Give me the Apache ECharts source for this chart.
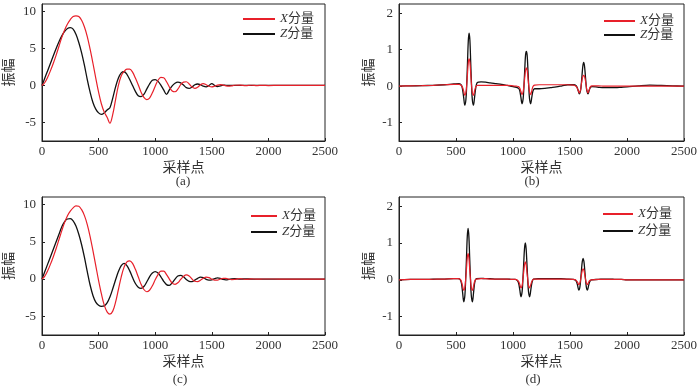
<!DOCTYPE html>
<html>
<head>
<meta charset="utf-8">
<script src="https://cdn.jsdelivr.net/npm/echarts@6/dist/echarts.min.js"></script>
<style>
  html, body { margin: 0; padding: 0; background: #fff; }
  #chart { width: 700px; height: 386px; }
</style>
</head>
<body>
<div id="chart"></div>
<script>
// sample positions for panels (a) and (c)
const xsAC = [0,25,50,75,100,125,150,175,200,225,250,275,300,325,350,375,400,425,450,475,
  500,525,550,575,600,625,650,675,700,725,750,775,800,825,850,875,900,925,950,975,
  1000,1025,1050,1075,1100,1125,1150,1175,1200,1225,1250,1275,1300,1325,1350,1375,1400,1425,1450,1475,
  1500,1525,1550,1575,1600,1625,1650,1675,1700,
  1750,1800,1850,1900,1950,2000,2100,2200,2300,2400,2500];

const redA = [0,0.4,1.1,2.0,3.0,4.1,5.3,6.5,7.5,8.3,
  8.9,9.3,9.4,9.3,8.8,7.9,6.6,4.9,3.0,1.0,
  -0.9,-2.5,-3.6,-4.3,-5.1,-3.9,-1.9,0.0,1.3,1.9,
  2.2,2.2,1.8,1.0,0.1,-0.9,-1.6,-1.9,-1.7,-1.0,
  -0.1,0.7,1.1,1.05,0.5,-0.2,-0.75,-0.85,-0.5,0.1,
  0.45,0.5,0.2,-0.2,-0.4,-0.25,0.1,0.25,0.1,-0.1,
  -0.2,-0.1,0.05,0.12,0.05,-0.05,-0.1,-0.05,0.03,
  0.05,-0.03,0.03,-0.02,0.02,-0.01,0.01,0,0,0,0];
const blackA = [0,1.0,2.0,3.0,4.0,5.0,5.9,6.7,7.3,7.7,
  7.8,7.6,6.9,5.8,4.4,2.7,0.8,-0.9,-2.3,-3.2,
  -3.7,-3.9,-3.7,-3.3,-3.0,-1.7,-0.2,1.0,1.7,1.85,
  1.5,0.8,0.0,-0.8,-1.4,-1.5,-1.2,-0.5,0.2,0.7,
  0.8,0.55,0.05,-0.6,-1.2,-0.6,-0.05,0.3,0.45,0.35,
  0.05,-0.3,-0.4,-0.2,0.1,0.2,0.1,-0.1,-0.2,0.0,
  0.25,0.0,-0.15,-0.05,0.05,0.02,0.0,0.0,0.02,
  0,0,0,0,0,0,0,0,0,0,0];

const redC = [0,0.4,1.1,2.0,3.0,4.1,5.3,6.5,7.6,8.5,
  9.1,9.55,9.8,9.75,9.3,8.5,7.3,5.7,3.8,1.8,
  -0.2,-2.0,-3.5,-4.4,-4.7,-4.3,-3.1,-1.4,0.3,1.6,
  2.3,2.45,2.1,1.3,0.3,-0.7,-1.4,-1.7,-1.5,-0.9,
  -0.1,0.6,1.05,1.05,0.6,0.0,-0.55,-0.7,-0.5,-0.05,
  0.35,0.55,0.4,0.0,-0.3,-0.35,-0.15,0.1,0.25,0.2,
  0.0,-0.15,-0.15,0.0,0.1,0.1,0.0,-0.07,-0.05,
  0.05,-0.03,0.03,-0.02,0.01,0.01,0,0,0,0,0];
const blackC = [0,1.0,2.0,3.0,4.0,5.0,6.0,7.0,7.7,8.05,
  8.1,7.8,7.1,6.0,4.6,2.9,1.0,-0.8,-2.2,-3.1,
  -3.5,-3.65,-3.6,-3.2,-2.4,-1.3,-0.1,1.0,1.8,2.1,
  1.8,1.1,0.2,-0.6,-1.1,-1.25,-1.0,-0.4,0.3,0.8,
  1.0,0.8,0.3,-0.3,-0.75,-0.85,-0.5,0.0,0.4,0.5,
  0.3,-0.05,-0.3,-0.35,-0.15,0.1,0.25,0.2,-0.05,-0.15,
  -0.1,0.05,0.15,0.1,-0.05,-0.1,-0.05,0.02,0.05,
  0.0,0.02,0.0,0.0,0.0,0.0,0,0,0,0,0];

// sample positions for panel (b)
const xsB = [0,100,200,300,400,480,
  527,547,557,567,577,587,594,601,608,615,622,629,636,643,653,663,673,687,
  720,760,800,850,900,950,1000,
  1029,1049,1059,1069,1079,1089,1096,1103,1110,1117,1124,1131,1138,1145,1155,1165,1175,1189,
  1230,1280,1330,1380,1430,1480,
  1532,1552,1562,1572,1582,1592,1599,1606,1613,1620,1627,1634,1641,1648,1658,1668,1678,1692,
  1750,1800,1850,1900,1950,2000,2100,2200,2300,2400,2500];
const redB = [0,0.01,0.015,0.025,0.04,0.05,
  0.05,0.02,-0.03,-0.13,-0.25,-0.17,0.04,0.35,0.65,0.75,0.65,0.35,0.04,-0.17,-0.25,-0.13,-0.02,0.02,
  0.02,0.02,0.02,0.02,0.02,0.02,0.01,
  0.0,-0.01,-0.05,-0.14,-0.23,-0.15,0.02,0.24,0.44,0.5,0.44,0.24,0.02,-0.15,-0.23,-0.12,-0.01,0.03,
  0.04,0.04,0.04,0.04,0.04,0.04,
  0.03,0.0,-0.04,-0.12,-0.18,-0.11,0.04,0.18,0.27,0.3,0.27,0.18,0.04,-0.11,-0.18,-0.1,-0.02,0.01,
  0.01,0.0,0.0,0.0,0.0,0.0,0.0,0.0,0.0,0.0,0.0];
const blackB = [0,0.01,0.015,0.025,0.04,0.06,
  0.07,0.03,-0.08,-0.3,-0.52,-0.36,0.05,0.65,1.25,1.45,1.25,0.65,0.05,-0.36,-0.52,-0.3,-0.05,0.1,
  0.12,0.11,0.09,0.07,0.05,0.02,-0.01,
  -0.03,-0.06,-0.12,-0.3,-0.48,-0.34,0.0,0.45,0.85,0.95,0.85,0.45,0.0,-0.34,-0.48,-0.3,-0.13,-0.07,
  -0.07,-0.06,-0.04,-0.02,0.01,0.04,
  0.04,0.02,-0.03,-0.12,-0.21,-0.13,0.05,0.32,0.56,0.65,0.56,0.32,0.05,-0.13,-0.21,-0.12,-0.04,-0.01,
  -0.03,-0.04,-0.04,-0.04,-0.03,-0.02,0.01,0.03,0.02,0.01,0.0];

// sample positions for panel (d)
const xsD = [0,100,200,300,400,480,
  518,538,548,558,568,578,585,592,599,606,613,620,627,634,644,654,664,678,
  720,760,800,850,900,950,990,
  1020,1040,1050,1060,1070,1080,1087,1094,1101,1108,1115,1122,1129,1136,1146,1156,1166,1180,
  1220,1270,1320,1370,1420,1470,
  1527,1547,1557,1567,1577,1587,1594,1601,1608,1615,1622,1629,1636,1643,1653,1663,1673,1687,
  1750,1800,1850,1900,1950,2000,2100,2200,2300,2400,2500];
const redD = [0,0.01,0.01,0.015,0.02,0.03,
  0.03,0.01,-0.05,-0.17,-0.29,-0.2,0.02,0.3,0.6,0.71,0.6,0.3,0.02,-0.2,-0.29,-0.17,-0.04,0.02,
  0.03,0.03,0.02,0.02,0.02,0.02,0.01,
  0.01,-0.01,-0.05,-0.13,-0.22,-0.15,0.02,0.22,0.41,0.49,0.41,0.22,0.02,-0.15,-0.22,-0.13,-0.04,0.02,
  0.02,0.02,0.02,0.02,0.02,0.02,
  0.01,0.0,-0.03,-0.07,-0.13,-0.08,0.02,0.15,0.26,0.3,0.26,0.15,0.02,-0.08,-0.13,-0.07,-0.02,0.0,
  0.01,0.01,0.01,0.01,0.01,0.0,0.0,0.0,0.0,0.0,0.0];
const blackD = [0,0.01,0.01,0.015,0.02,0.03,
  0.03,0.0,-0.1,-0.35,-0.6,-0.42,0.02,0.6,1.18,1.4,1.18,0.6,0.02,-0.42,-0.6,-0.35,-0.08,0.03,
  0.04,0.03,0.03,0.02,0.02,0.02,0.01,
  0.01,-0.03,-0.1,-0.28,-0.46,-0.32,0.02,0.45,0.85,1.0,0.85,0.45,0.02,-0.32,-0.46,-0.28,-0.08,0.02,
  0.03,0.03,0.03,0.03,0.03,0.02,
  0.01,-0.01,-0.05,-0.16,-0.28,-0.19,0.02,0.28,0.5,0.58,0.5,0.28,0.02,-0.19,-0.28,-0.16,-0.05,0.0,
  0.01,0.02,0.02,0.01,0.01,0.0,0.0,0.0,0.0,0.0,0.0];

const xTicks = [0, 500, 1000, 1500, 2000, 2500];
const captions = ['(a)', '(b)', '(c)', '(d)'];
const seriesNames = ['X分量', 'Z分量'];

const RED = '#e8202a';
const BLACK = '#111111';
const TXT = '#333333';
const FONT = '"Liberation Serif", "Noto Sans CJK SC", serif';

const panels = [
  {xs: xsAC, red: redA, black: blackA, ymin: -7.5, ymax: 11, step: 5,
   grid: {left: 42, top: 4, width: 283, height: 137}, nameGap: 26,
   legend: {left: 243, top: 12, w: 32, gap: 1}, cap: [183, 182]},
  {xs: xsB, red: redB, black: blackB, ymin: -1.5, ymax: 2.25, step: 1,
   grid: {left: 399, top: 4, width: 288, height: 137}, nameGap: 23,
   legend: {left: 604, top: 14, w: 31, gap: 0}, cap: [532, 182]},
  {xs: xsAC, red: redC, black: blackC, ymin: -7.5, ymax: 11, step: 5,
   grid: {left: 42, top: 197, width: 283, height: 138}, nameGap: 26,
   legend: {left: 251, top: 209, w: 26, gap: 2}, cap: [180, 380]},
  {xs: xsD, red: redD, black: blackD, ymin: -1.5, ymax: 2.25, step: 1,
   grid: {left: 399, top: 197, width: 288, height: 138}, nameGap: 23,
   legend: {left: 603, top: 207, w: 30, gap: 3}, cap: [533, 380]},
];

const pairs = (xs, ys) => xs.map((x, i) => [x, ys[i]]);

const grid = [], xAxis = [], yAxis = [], series = [], legend = [], graphic = [];

panels.forEach((p, i) => {
  grid.push(Object.assign({show: true, borderColor: '#222', borderWidth: 1, backgroundColor: 'transparent'}, p.grid));
  xAxis.push({
    type: 'value', gridIndex: i, min: xTicks[0], max: xTicks[xTicks.length - 1], interval: 500,
    name: '采样点', nameLocation: 'middle', nameGap: 20,
    nameTextStyle: {fontSize: 14, color: TXT, fontFamily: FONT},
    axisLine: {show: true, onZero: false, lineStyle: {color: '#222', width: 1}},
    axisTick: {show: true, inside: true, length: 3, lineStyle: {color: '#222'}},
    axisLabel: {color: TXT, fontSize: 13, fontFamily: FONT, margin: 4, formatter: v => String(v)},
    splitLine: {show: false},
  });
  yAxis.push({
    type: 'value', gridIndex: i, min: p.ymin, max: p.ymax, splitNumber: 4,
    minInterval: p.step, maxInterval: p.step,
    name: '振幅', nameLocation: 'middle', nameGap: p.nameGap, nameRotate: 90,
    nameTextStyle: {fontSize: 14, color: TXT, fontFamily: FONT},
    axisLine: {show: true, onZero: false, lineStyle: {color: '#222', width: 1}},
    axisTick: {show: true, inside: true, length: 3, lineStyle: {color: '#222'}},
    axisLabel: {color: TXT, fontSize: 13, fontFamily: FONT, margin: 6, showMinLabel: false, showMaxLabel: false},
    splitLine: {show: false},
  });
  series.push({
    name: seriesNames[1], type: 'line', xAxisIndex: i, yAxisIndex: i,
    data: pairs(p.xs, p.black), showSymbol: false, symbol: 'none', smooth: 0.35,
    lineStyle: {color: BLACK, width: 1.3}, itemStyle: {color: BLACK}, animation: false,
  });
  series.push({
    name: seriesNames[0], type: 'line', xAxisIndex: i, yAxisIndex: i,
    data: pairs(p.xs, p.red), showSymbol: false, symbol: 'none', smooth: 0.35,
    lineStyle: {color: RED, width: 1.2}, itemStyle: {color: RED}, animation: false,
  });
  legend.push({
    data: seriesNames, orient: 'vertical', left: p.legend.left, top: p.legend.top,
    padding: 0, icon: 'rect', itemWidth: p.legend.w, itemHeight: 2, itemGap: p.legend.gap,
    selectedMode: false,
    formatter: name => '{i|' + name[0] + '}' + name.slice(1),
    textStyle: {
      fontSize: 13, color: TXT, fontFamily: FONT, lineHeight: 14,
      rich: {i: {fontStyle: 'italic', fontSize: 13, color: TXT, fontFamily: FONT, lineHeight: 14}},
    },
  });
  graphic.push({
    type: 'text', x: p.cap[0], y: p.cap[1],
    style: {text: captions[i], align: 'center', verticalAlign: 'middle', fill: TXT, font: '13px ' + FONT},
  });
});

const chart = echarts.init(document.getElementById('chart'), null, {renderer: 'canvas'});
chart.setOption({
  animation: false,
  backgroundColor: '#fff',
  grid, xAxis, yAxis, series, legend, graphic,
});
</script>
</body>
</html>
